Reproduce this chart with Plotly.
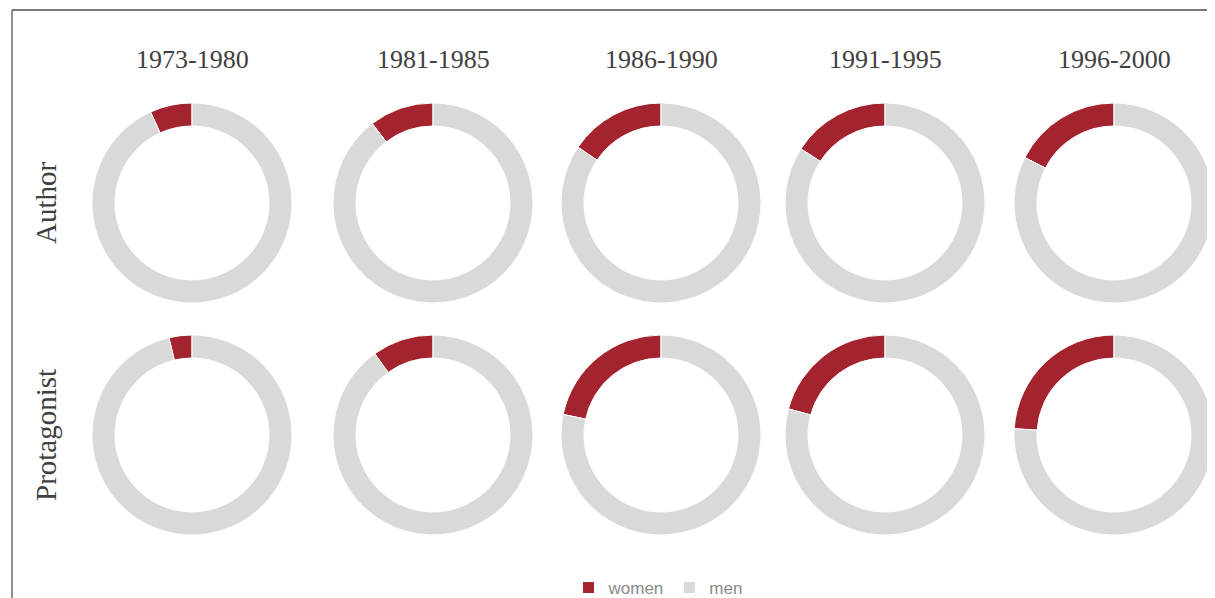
import plotly.graph_objects as go

periods = ["1973-1980", "1981-1985", "1986-1990", "1991-1995", "1996-2000"]
rows = ["Author", "Protagonist"]
labels = ["women", "men"]
women_author = [6.8, 10.4, 15.6, 15.9, 17.5]
women_protagonist = [3.7, 9.9, 21.7, 20.8, 24.0]
colors = ["#A3232E", "#D9D9D9"]

W, H = 1215, 598
OX, OY = 8, 8  # page body offset
col_cx = [192, 433, 661, 885, 1114]
row_cy = [203, 435]
R = 100


def px(x):
    return (x - OX) / W


def py(y):
    return 1 - (y - OY) / H


fig = go.Figure()
for r, vals in enumerate([women_author, women_protagonist]):
    for c, w in enumerate(vals):
        cx, cy = col_cx[c], row_cy[r]
        fig.add_trace(go.Pie(
            labels=labels,
            values=[w, 100 - w],
            hole=0.77,
            sort=False,
            direction="clockwise",
            rotation=-360 * w / 100,
            textinfo="none",
            hoverinfo="label+percent",
            marker=dict(colors=colors, line=dict(color="white", width=1)),
            domain=dict(x=[px(cx - R), px(cx + R)],
                        y=[py(cy + R), py(cy - R)]),
            showlegend=(r == 0 and c == 0),
        ))

annotations = []
for c, p in enumerate(periods):
    annotations.append(dict(x=px(col_cx[c]), y=py(60), xref="paper", yref="paper",
                            xanchor="center", yanchor="middle",
                            text=p, showarrow=False,
                            font=dict(family="Liberation Serif", size=26, color="#404040")))
for r, name in enumerate(rows):
    annotations.append(dict(x=px(46), y=py(row_cy[r]), xref="paper", yref="paper",
                            xanchor="center", yanchor="middle",
                            text=name, showarrow=False, textangle=-90,
                            font=dict(family="Liberation Serif", size=29, color="#404040")))

shapes = [
    dict(type="line", xref="paper", yref="paper", x0=px(12), x1=1, y0=py(10), y1=py(10),
         line=dict(color="#7a7a7a", width=2)),
    dict(type="line", xref="paper", yref="paper", x0=px(12), x1=px(12), y0=0, y1=py(10),
         line=dict(color="#222222", width=1)),
]

fig.update_layout(
    width=W, height=H,
    margin=dict(l=0, r=0, t=0, b=0),
    paper_bgcolor="white",
    plot_bgcolor="white",
    annotations=annotations,
    shapes=shapes,
    legend=dict(orientation="h", x=px(658), xanchor="center", y=py(588), yanchor="middle",
                font=dict(family="Liberation Sans", size=17, color="#8a8a8a"),
                itemwidth=30, tracegroupgap=0),
)

fig.write_html("out.html")
